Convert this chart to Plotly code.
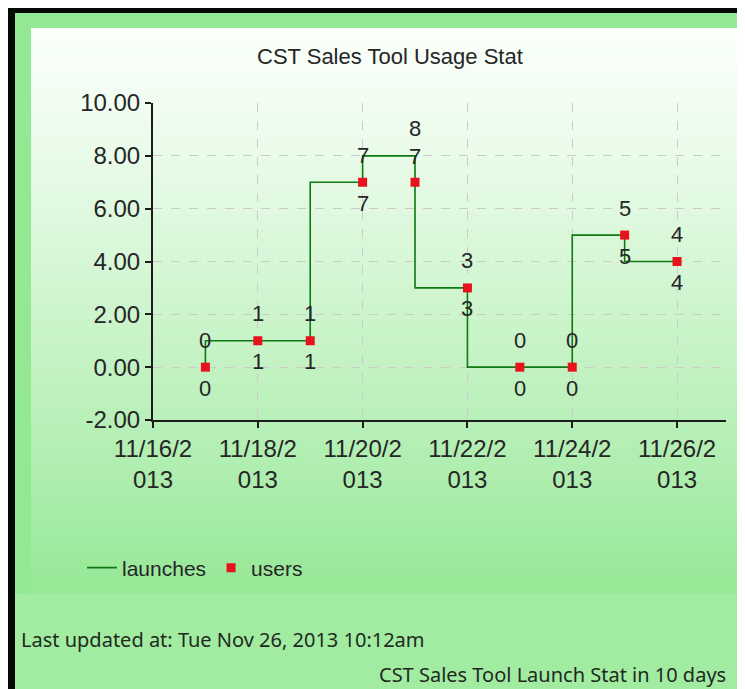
import plotly.graph_objects as go

# ---- data ----
dates = ["2013-11-17", "2013-11-18", "2013-11-19", "2013-11-20", "2013-11-21",
         "2013-11-22", "2013-11-23", "2013-11-24", "2013-11-25", "2013-11-26"]
launches = [0, 1, 1, 7, 8, 3, 0, 0, 5, 4]
users = [0, 1, 1, 7, 7, 3, 0, 0, 5, 4]

x_tickvals = ["2013-11-16", "2013-11-18", "2013-11-20", "2013-11-22", "2013-11-24", "2013-11-26"]
x_ticktext = ["11/16/2<br>013", "11/18/2<br>013", "11/20/2<br>013", "11/22/2<br>013",
              "11/24/2<br>013", "11/26/2<br>013"]
y_tickvals = [-2, 0, 2, 4, 6, 8, 10]
y_ticktext = ["-2.00", "0.00", "2.00", "4.00", "6.00", "8.00", "10.00"]

title_text = "CST Sales Tool Usage Stat"
footer_left = "Last updated at: Tue Nov 26, 2013 10:12am"
footer_right = "CST Sales Tool Launch Stat in 10 days"

# user label placement (smart-label: one moved above)
users_label_above = [False, False, False, False, True, False, False, False, False, False]

W, H = 745, 689


def px(x):
    return x / W


def py(y):
    return 1 - y / H


CHART_FONT = "Liberation Sans, Arial, sans-serif"
UI_FONT = "Noto Sans, Open Sans, sans-serif"
TEXT_COL = "#262626"

fig = go.Figure()
fig.add_trace(go.Scatter(
    x=dates, y=launches, mode="lines", name="launches",
    line=dict(shape="vh", color="#0e7a12", width=1.6),
))
fig.add_trace(go.Scatter(
    x=dates, y=users, mode="markers", name="users",
    marker=dict(symbol="square", size=9, color="#e8121c", line=dict(width=0)),
))

annotations = []
for d, v in zip(dates, launches):
    annotations.append(dict(x=d, y=v, xref="x", yref="y", text=str(v), showarrow=False,
                            yshift=27, font=dict(family=CHART_FONT, size=22, color=TEXT_COL)))
for d, v, above in zip(dates, users, users_label_above):
    annotations.append(dict(x=d, y=v, xref="x", yref="y", text=str(v), showarrow=False,
                            yshift=26 if above else -21,
                            font=dict(family=CHART_FONT, size=22, color=TEXT_COL)))

annotations.append(dict(x=px(382), y=py(49), xref="paper", yref="paper", text=title_text,
                        showarrow=False, xanchor="center", yanchor="middle",
                        font=dict(family=CHART_FONT, size=22, color=TEXT_COL)))
annotations.append(dict(x=px(12), y=py(631), xref="paper", yref="paper", text=footer_left,
                        showarrow=False, xanchor="left", yanchor="middle", borderpad=0,
                        font=dict(family=UI_FONT, size=20, color="#1e2a1e")))
annotations.append(dict(x=px(719), y=py(666), xref="paper", yref="paper", text=footer_right,
                        showarrow=False, xanchor="right", yanchor="middle", borderpad=0,
                        font=dict(family=UI_FONT, size=20, color="#1e2a1e")))

shapes = []
# bottom lighter strip
shapes.append(dict(type="rect", xref="paper", yref="paper", x0=px(7), x1=1, y0=0, y1=py(586),
                   fillcolor="#a2eca2", line=dict(width=0), layer="below"))
# panel gradient
top_c = (251, 255, 251)
bot_c = (150, 232, 150)
y_top, y_bot = 20, 586
n = 70
for i in range(n):
    t = (i + 0.5) / n
    tt = t ** 1.15
    c = tuple(int(round(top_c[k] + (bot_c[k] - top_c[k]) * tt)) for k in range(3))
    ya = y_top + (y_bot - y_top) * i / n
    yb = y_top + (y_bot - y_top) * (i + 1) / n + 0.6
    shapes.append(dict(type="rect", xref="paper", yref="paper", x0=px(23), x1=px(741),
                       y0=py(yb), y1=py(ya), fillcolor="rgb(%d,%d,%d)" % c,
                       line=dict(width=0), layer="below"))
# black border
shapes.append(dict(type="rect", xref="paper", yref="paper", x0=0, x1=px(7), y0=0, y1=1,
                   fillcolor="#060806", line=dict(width=0), layer="below"))
shapes.append(dict(type="rect", xref="paper", yref="paper", x0=0, x1=1, y0=py(5), y1=1,
                   fillcolor="#060806", line=dict(width=0), layer="below"))

fig.update_layout(
    width=W, height=H,
    autosize=False,
    margin=dict(l=0, r=0, t=0, b=0, pad=0, autoexpand=False),
    paper_bgcolor="#93e893",
    plot_bgcolor="rgba(0,0,0,0)",
    showlegend=True,
    legend=dict(orientation="h", x=px(74), y=py(560), xanchor="left", yanchor="middle",
                bgcolor="rgba(0,0,0,0)", font=dict(family=CHART_FONT, size=21, color=TEXT_COL),
                itemwidth=30),
    annotations=annotations,
    shapes=shapes,
    xaxis=dict(
        type="date", domain=[px(145), px(718)], automargin=False,
        range=["2013-11-16", "2013-11-26 22:25"],
        tickmode="array", tickvals=x_tickvals, ticktext=x_ticktext,
        showgrid=True, gridcolor="#cbcbcb", griddash="dash", gridwidth=1,
        showline=True, linecolor="#1c1c1c", linewidth=2,
        ticks="outside", ticklen=6, tickcolor="#1c1c1c", tickwidth=2,
        tickfont=dict(family=CHART_FONT, size=24, color=TEXT_COL),
        zeroline=False, fixedrange=True,
    ),
    yaxis=dict(
        domain=[py(412), py(95)], range=[-2, 10], automargin=False,
        tickmode="array", tickvals=y_tickvals, ticktext=y_ticktext,
        showgrid=True, gridcolor="#cbcbcb", griddash="dash", gridwidth=1,
        showline=True, linecolor="#1c1c1c", linewidth=2,
        ticks="outside", ticklen=6, tickcolor="#1c1c1c", tickwidth=2,
        tickfont=dict(family=CHART_FONT, size=24, color=TEXT_COL),
        zeroline=False, fixedrange=True,
    ),
)

fig.write_html("out.html")
